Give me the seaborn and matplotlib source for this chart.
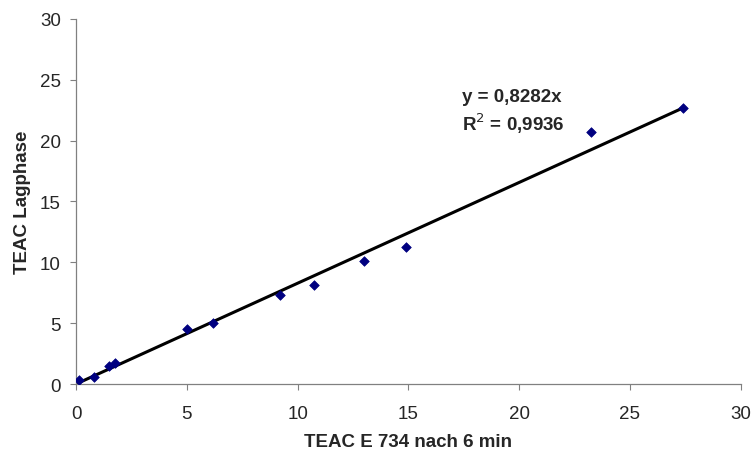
import matplotlib
matplotlib.use("Agg")
import matplotlib.pyplot as plt
import seaborn as sns
import numpy as np
import pandas as pd

x_vals = [0.15, 0.8, 1.5, 1.75, 5.0, 6.2, 9.2, 10.75, 13.0, 14.9, 23.25, 27.4]
y_vals = [0.35, 0.6, 1.5, 1.7, 4.5, 5.0, 7.3, 8.1, 10.1, 11.3, 20.7, 22.7]
slope = 0.8282
eq_text = "y = 0,8282x"
r2_text = "R$^2$ = 0,9936"
x_label = "TEAC E 734 nach 6 min"
y_label = "TEAC Lagphase"

sns.set_theme(style="white")
plt.rcParams['font.family'] = ['Liberation Sans', 'DejaVu Sans']

df = pd.DataFrame({"x": x_vals, "y": y_vals})

fig = plt.figure(figsize=(7.55, 4.52), dpi=100)
ax = fig.add_axes([0.1007, 0.1482, 0.8803, 0.8076])

xl = np.array([0, max(x_vals)])
line_df = pd.DataFrame({"x": xl, "y": slope * xl})
sns.lineplot(data=line_df, x="x", y="y", color="black", linewidth=2.2, ax=ax, zorder=2)
sns.scatterplot(data=df, x="x", y="y", marker="D", color="#000080", s=24,
                edgecolor="#000080", linewidth=0.5, ax=ax, zorder=3)

ax.set_xlim(0, 30)
ax.set_ylim(0, 30)
ax.set_xticks(range(0, 31, 5))
ax.set_yticks(range(0, 31, 5))
ax.tick_params(axis="both", direction="out", length=4, width=0.8, color="#808080",
               labelsize=13.5, bottom=True, left=True)
ax.tick_params(axis="x", pad=11)
ax.tick_params(axis="y", pad=7)
for s in ["top", "right"]:
    ax.spines[s].set_visible(False)
for s in ["left", "bottom"]:
    ax.spines[s].set_color("#808080")
    ax.spines[s].set_linewidth(0.9)

ax.set_xlabel(x_label, fontsize=13.5, fontweight="bold", labelpad=8)
ax.set_ylabel(y_label, fontsize=13.5, fontweight="bold", labelpad=6)

ax.text(17.4, 23.6, eq_text, fontsize=13.5, fontweight="bold", ha="left", va="center")
ax.text(17.4, 21.5, r2_text, fontsize=13.5, fontweight="bold", ha="left", va="center")

fig.savefig("out.png", dpi=100, facecolor="white")
